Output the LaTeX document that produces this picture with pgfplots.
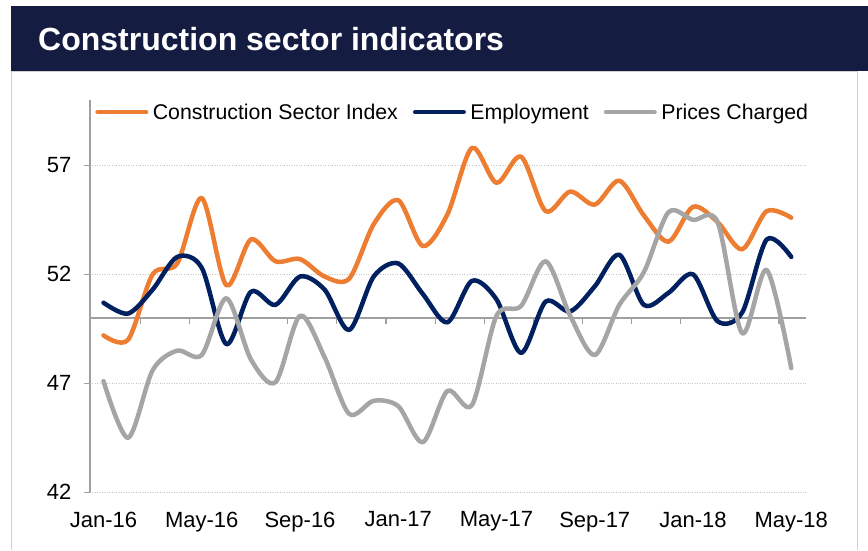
\documentclass[border=0pt]{standalone}
\usepackage{fontspec}
\setmainfont{Liberation Sans}
\usepackage{pgfplots}
\usepackage{pgfplotstable}
\pgfplotsset{compat=1.18}

\definecolor{csorange}{HTML}{ED7D31}
\definecolor{csnavy}{HTML}{002060}
\definecolor{csgrey}{HTML}{A5A5A5}
\definecolor{banner}{HTML}{141C42}
\definecolor{frame}{HTML}{D0D0D0}

% month index (0 = Jan-16), Construction Sector Index, Employment, Prices Charged
\pgfplotstableread{
m   csi    emp    pc
0   49.2   50.7   47.1
1   49.0   50.2   44.5
2   52.0   51.3   47.6
3   52.5   52.8   48.5
4   55.5   52.3   48.3
5   51.5   48.8   50.9
6   53.6   51.2   48.1
7   52.6   50.6   47.05
8   52.7   51.9   50.1
9   51.9   51.3   48.2
10  51.8   49.45  45.6
11  54.3   51.9   46.2
12  55.4   52.5   45.95
13  53.3   51.1   44.3
14  54.75  49.8   46.65
15  57.8   51.7   46.0
16  56.2   50.85  50.1
17  57.4   48.4   50.55
18  54.9   50.75  52.6
19  55.8   50.3   50.1
20  55.2   51.45  48.3
21  56.3   52.9   50.6
22  54.7   50.6   52.1
23  53.5   51.15  54.85
24  55.1   52.0   54.5
25  54.4   49.85  54.4
26  53.15  50.25  49.3
27  54.9   53.6   52.2
28  54.6   52.8   47.7
}\datatable

\begin{document}
\begin{tikzpicture}
  \useasboundingbox (0pt,0pt) rectangle (868pt,550pt);
  \fill[white] (0pt,0pt) rectangle (868pt,550pt);
  % title banner and chart frame
  \fill[banner] (11pt,479pt) rectangle (868pt,544pt);
  \draw[frame, line width=1pt] (11pt,0pt) -- (11pt,478.5pt) -- (857pt,478.5pt) -- (857pt,0pt);
  \node[anchor=base west, text=white, inner sep=0pt,
        font=\bfseries\fontsize{32}{36}\selectfont]
        at (38pt,499pt) {Construction sector indicators};

  \begin{axis}[
      at={(90pt,57.7pt)}, anchor=south west,
      scale only axis,
      width=716pt, height=392.3pt,
      xmin=-0.55, xmax=28.6,
      ymin=42, ymax=60,
      axis x line*=bottom,
      axis y line*=left,
      x axis line style={draw=none},
      y axis line style={draw=gray!75, line width=1.2pt},
      xtick={0,4,...,28},
      xticklabels={Jan-16,May-16,Sep-16,Jan-17,May-17,Sep-17,Jan-18,May-18},
      ytick={42,47,52,57},
      xtick style={draw=none},
      ytick style={draw=gray!75, line width=1.2pt},
      tick align=outside,
      major tick length=6pt,
      ymajorgrids,
      major grid style={draw=gray!45, dotted, line width=0.9pt},
      /pgf/number format/assume math mode=true,
      tick label style={font=\fontsize{22}{26}\selectfont},
      xticklabel style={yshift=-10pt},
      yticklabel style={xshift=-9pt},
      legend columns=-1,
      legend style={draw=none, fill=none, at={(0.003,0.969)}, anchor=west,
        font=\fontsize{21.3}{25}\selectfont,
        nodes={inner sep=2.5pt},
        /tikz/every odd column/.append style={column sep=2pt},
        /tikz/every even column/.append style={column sep=12.5pt}},
      legend image code/.code={%
        \draw[#1, line width=4.5pt, line cap=round] (0pt,0pt) -- (48.5pt,0pt);},
      every axis plot/.append style={line width=4.5pt, line cap=round,
        line join=round, smooth, no markers},
    ]
    % horizontal axis crossing at 50, ticks between months
    \draw[gray!75, line width=1.2pt] (axis cs:-0.55,50) -- (axis cs:28.6,50);
    \pgfplotsinvokeforeach{1.5,3.5,...,27.5}{
      \draw[gray!75, line width=1.2pt] (axis cs:#1,50) -- ++(0pt,-6pt);
    }
    \addplot[csorange] table[x=m, y=csi] {\datatable};
    \addlegendentry{Construction Sector Index}
    \addplot[csnavy] table[x=m, y=emp] {\datatable};
    \addlegendentry{Employment}
    \addplot[csgrey] table[x=m, y=pc] {\datatable};
    \addlegendentry{Prices Charged}
  \end{axis}
\end{tikzpicture}
\end{document}
